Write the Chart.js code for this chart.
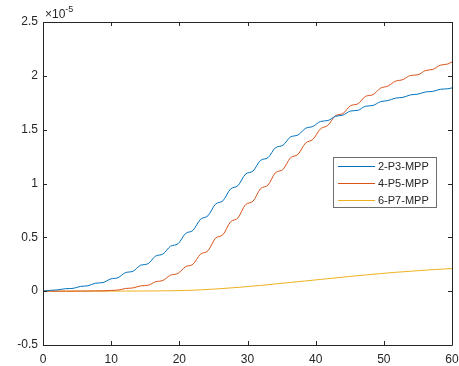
<!DOCTYPE html>
<html>
<head>
<meta charset="utf-8">
<script src="https://cdn.jsdelivr.net/npm/chart.js@4.4.1/dist/chart.umd.min.js"></script>
<style>
  html, body { margin: 0; padding: 0; background: #fff; }
  #wrap { width: 459px; height: 366px; }
</style>
</head>
<body>
<div id="wrap"><canvas id="chart" width="459" height="366"></canvas></div>
<script>
// sample positions (time) shared by all series
var xs = [0, 1.1, 2.2, 3.3, 4.4, 5.5, 6.6, 7.7, 8.8, 9.9, 11, 12.1, 13.2, 14.3, 15.4, 16.5, 17.6, 18.7, 19.8, 20.9,
  22, 23.1, 24.2, 25.3, 26.4, 27.5, 28.6, 29.7, 30.8, 31.9, 33, 34.1, 35.2, 36.3, 37.4, 38.5, 39.6, 40.7, 41.8, 42.9,
  44, 45.1, 46.2, 47.3, 48.4, 49.5, 50.6, 51.7, 52.8, 53.9, 55, 56.1, 57.2, 58.3, 59.4, 60];

// values in units of 1e-5
var p3 = [0, 0.008, 0.012, 0.023, 0.026, 0.044, 0.05, 0.074, 0.08, 0.113, 0.125, 0.172, 0.185, 0.24, 0.255, 0.325, 0.345, 0.417, 0.44, 0.535,
  0.565, 0.667, 0.70, 0.808, 0.84, 0.948, 0.98, 1.087, 1.115, 1.214, 1.24, 1.332, 1.355, 1.432, 1.45, 1.512, 1.53, 1.576, 1.585, 1.624,
  1.635, 1.673, 1.68, 1.717, 1.725, 1.76, 1.77, 1.793, 1.80, 1.823, 1.83, 1.85, 1.856, 1.875, 1.88, 1.888];
var p5 = [0, 0, 0, 0, 0.0005, 0.001, 0.001, 0.003, 0.003, 0.007, 0.01, 0.025, 0.03, 0.049, 0.055, 0.087, 0.10, 0.148, 0.165, 0.227,
  0.25, 0.343, 0.375, 0.491, 0.525, 0.643, 0.68, 0.803, 0.835, 0.951, 0.985, 1.10, 1.13, 1.238, 1.27, 1.375, 1.41, 1.507, 1.54, 1.63,
  1.65, 1.722, 1.74, 1.809, 1.825, 1.885, 1.905, 1.95, 1.965, 2.003, 2.01, 2.049, 2.06, 2.099, 2.11, 2.13];
var p7 = [0, 0, 0, 0, 0, 0, 0, 0, 0, 0, 0.0005, 0.001, 0.001, 0.001, 0.002, 0.002, 0.003, 0.004, 0.005, 0.007,
  0.009, 0.012, 0.016, 0.02, 0.025, 0.03, 0.035, 0.041, 0.047, 0.053, 0.06, 0.067, 0.074, 0.081, 0.088, 0.095, 0.102, 0.109, 0.116, 0.123,
  0.13, 0.137, 0.144, 0.15, 0.157, 0.163, 0.169, 0.175, 0.18, 0.185, 0.19, 0.195, 0.2, 0.204, 0.208, 0.21];

var seriesNames = ['2-P3-MPP', '4-P5-MPP', '6-P7-MPP'];
var seriesColors = ['#0072BD', '#D95319', '#EDB120'];
var xTicks = [0, 10, 20, 30, 40, 50, 60];
var yTicks = [-0.5, 0, 0.5, 1, 1.5, 2, 2.5];
var yExponent = '-5';

var FONT = '"Liberation Sans", Arial, Helvetica, sans-serif';
var AXIS = '#262626';

function toPoints(vals) {
  var pts = [];
  for (var i = 0; i < xs.length; i++) pts.push({ x: xs[i], y: vals[i] });
  return pts;
}

// box, inward ticks, exponent label and legend, drawn like the matlab figure
var matlabAxes = {
  id: 'matlabAxes',
  afterDatasetsDraw: function(chart) {
    var ctx = chart.ctx, a = chart.chartArea;
    var xs_ = chart.scales.x, ys_ = chart.scales.y;
    var len = 4;
    ctx.save();
    ctx.strokeStyle = AXIS;
    ctx.lineWidth = 1;
    ctx.beginPath();
    ctx.rect(Math.round(a.left) + 0.5, Math.round(a.top) + 0.5, Math.round(a.right - a.left), Math.round(a.bottom - a.top));
    xTicks.forEach(function(v) {
      var px = Math.round(xs_.getPixelForValue(v)) + 0.5;
      ctx.moveTo(px, a.bottom); ctx.lineTo(px, a.bottom - len);
      ctx.moveTo(px, a.top); ctx.lineTo(px, a.top + len);
    });
    yTicks.forEach(function(v) {
      var py = Math.round(ys_.getPixelForValue(v)) + 0.5;
      ctx.moveTo(a.left, py); ctx.lineTo(a.left + len, py);
      ctx.moveTo(a.right, py); ctx.lineTo(a.right - len, py);
    });
    ctx.stroke();

    // x10^-5 above the y axis
    ctx.fillStyle = AXIS;
    ctx.textBaseline = 'alphabetic';
    ctx.textAlign = 'left';
    ctx.font = '12px ' + FONT;
    ctx.fillText('\u00d710', a.left + 2, a.top - 4);
    var w = ctx.measureText('\u00d710').width;
    ctx.font = '9px ' + FONT;
    ctx.fillText(yExponent, a.left + 2 + w, a.top - 10);

    // legend
    var bx = 333, by = 157, bw = 103, bh = 50;
    ctx.fillStyle = '#fff';
    ctx.fillRect(bx, by, bw, bh);
    ctx.strokeStyle = '#6e6e6e';
    ctx.strokeRect(bx + 0.5, by + 0.5, bw, bh);
    ctx.font = '11px ' + FONT;
    ctx.textBaseline = 'middle';
    for (var i = 0; i < seriesNames.length; i++) {
      var ry = by + 9 + i * 17;
      ctx.strokeStyle = seriesColors[i];
      ctx.beginPath();
      ctx.moveTo(bx + 5, ry + 0.5); ctx.lineTo(bx + 42, ry + 0.5);
      ctx.stroke();
      ctx.fillStyle = AXIS;
      ctx.fillText(seriesNames[i], bx + 45, ry + 1);
    }
    ctx.restore();
  }
};

var datasets = [p3, p5, p7].map(function(vals, i) {
  return {
    label: seriesNames[i],
    data: toPoints(vals),
    borderColor: seriesColors[i],
    backgroundColor: seriesColors[i],
    borderWidth: 1,
    pointRadius: 0,
    cubicInterpolationMode: 'monotone',
    fill: false
  };
});

new Chart(document.getElementById('chart').getContext('2d'), {
  type: 'line',
  data: { datasets: datasets },
  options: {
    responsive: false,
    animation: false,
    events: [],
    layout: { padding: { top: 22, right: 7, left: 0, bottom: 0 } },
    plugins: { legend: { display: false }, tooltip: { enabled: false } },
    scales: {
      x: {
        type: 'linear', min: 0, max: 60,
        afterBuildTicks: function(s) { s.ticks = xTicks.map(function(v) { return { value: v }; }); },
        afterFit: function(s) { s.height = 21; s.paddingLeft = 0; s.paddingRight = 0; },
        grid: { display: false, drawTicks: false },
        border: { display: false },
        ticks: { color: AXIS, padding: 7, maxRotation: 0, font: { family: FONT, size: 12 } }
      },
      y: {
        type: 'linear', min: -0.5, max: 2.5,
        afterBuildTicks: function(s) { s.ticks = yTicks.map(function(v) { return { value: v }; }); },
        afterFit: function(s) { s.width = 43; s.paddingTop = 0; s.paddingBottom = 0; },
        grid: { display: false, drawTicks: false },
        border: { display: false },
        ticks: {
          color: AXIS, padding: 5, font: { family: FONT, size: 12 },
          callback: function(v) { return String(v); }
        }
      }
    }
  },
  plugins: [matlabAxes]
});
</script>
</body>
</html>
